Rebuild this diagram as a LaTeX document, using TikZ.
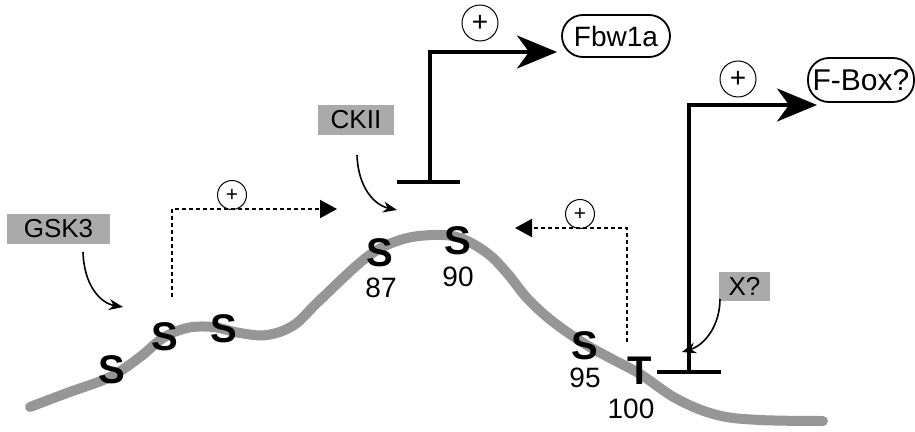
\documentclass[tikz,border=0pt]{standalone}
\usepackage{fontspec}
\setmainfont{Liberation Sans}
\usetikzlibrary{arrows.meta}
\definecolor{boxgray}{RGB}{170,170,170}
\definecolor{curvegray}{RGB}{150,150,150}
\begin{document}
\begin{tikzpicture}[x=1pt,y=-1pt,
  kinase/.style={rectangle, fill=boxgray, minimum height=30pt, inner sep=0pt, font=\fontsize{26}{26}\selectfont},
  target/.style={rectangle, rounded corners=21pt, draw, line width=1.8pt, minimum height=42pt, inner sep=0pt, font=\fontsize{28}{28}\selectfont},
  bigplus/.style={circle, draw, line width=1pt, minimum size=36pt, inner sep=0pt, font=\fontsize{28}{28}\selectfont},
  smallplus/.style={circle, draw, line width=1pt, minimum size=29pt, inner sep=0pt, font=\fontsize{21}{21}\selectfont},
  site/.style={inner sep=0pt, font=\fontsize{40}{40}\selectfont\bfseries},
  num/.style={inner sep=0pt, font=\fontsize{28}{28}\selectfont},
  curvearrow/.style={line width=1.6pt, -{Stealth[length=14pt,width=11pt]}},
  bigarrow/.style={line width=3.8pt, -{Stealth[length=40pt,width=33pt,inset=12pt]}},
  tbar/.style={line width=3.8pt},
  dotarrow/.style={line width=2pt, dash pattern=on 4pt off 3pt, -{Triangle[length=17pt,width=18pt]}}
]
\useasboundingbox (0,0) rectangle (915,431);

% protein backbone
\draw[curvegray, line width=10pt, line cap=round]
  plot[smooth, tension=0.6] coordinates {(30,407) (67,393) (110,377) (140,357) (163,338) (187,328) (213,327) (240,333) (267,335) (294,325) (320,300) (367,257) (400,240) (433,235) (460,238) (487,253) (507,273) (527,298) (552,321) (585,344) (612,359) (640,374) (677,399) (717,415) (760,420) (823,421)};

% phosphorylation sites
\node[site] (s1) at (112,370) {S};
\node[site] (s2) at (165,337) {S};
\node[site] (s3) at (224,329) {S};
\node[site] (s87) at (380,253) {S};
\node[site] (s90) at (458,241) {S};
\node[site] (s95) at (585,346) {S};
\node[site] (t100) at (640,371) {T};
\node[num] (n87) at (381,288) {87};
\node[num] (n90) at (458,277) {90};
\node[num] (n95) at (585,378) {95};
\node[num] (n100) at (631,409) {100};

% kinases
\node[kinase, minimum width=103pt] (gsk) at (58.5,229) {GSK3};
\node[kinase, minimum width=76pt] (ckii) at (356,120) {CKII};
\node[kinase, minimum width=51pt, minimum height=29pt] (xq) at (744.5,286.5) {X?};

% targets
\node[target, minimum width=108pt] (fbw) at (616,36) {Fbw1a};
\node[target, minimum width=106pt, minimum height=44pt, font=\fontsize{30}{30}\selectfont] (fbox) at (861,80) {F-Box?};

% plus circles
\node[bigplus] (p1) at (480,23) {+};
\node[bigplus] (p2) at (738,79) {+};
\node[smallplus] (p3) at (232,195) {+};
\node[smallplus] (p4) at (580,214) {+};

% coordinates
\coordinate (g0) at (83,252);
\coordinate (g1) at (123,307);
\coordinate (c0) at (357,155);
\coordinate (c1) at (397,210);
\coordinate (x0) at (720,299);
\coordinate (x1) at (682,352);
\coordinate (d1a) at (172,297);
\coordinate (d1b) at (337,209);
\coordinate (d2a) at (627,342);
\coordinate (d2b) at (515,228);
\coordinate (b1l) at (397,182);
\coordinate (b1r) at (460,182);
\coordinate (b1m) at (430,182);
\coordinate (b1t) at (557,52);
\coordinate (b2l) at (657,372);
\coordinate (b2r) at (721,372);
\coordinate (b2m) at (689,372);
\coordinate (b2t) at (817,105);

% kinase arrows
\draw[curvearrow] (g0) .. controls (84,285) and (100,303) .. (g1);
\draw[curvearrow] (c0) .. controls (358,187) and (374,205) .. (c1);
\draw[curvearrow] (x0) .. controls (720,325) and (705,345) .. (x1);

% dotted feedback arrows
\draw[dotarrow] (d1a) |- (d1b);
\draw[dotarrow] (d2a) |- (d2b);

% transcription / activation
\draw[tbar] (b1l) -- (b1r);
\draw[bigarrow] (b1m) |- (b1t);
\draw[tbar] (b2l) -- (b2r);
\draw[bigarrow] (b2m) |- (b2t);
\end{tikzpicture}
\end{document}
